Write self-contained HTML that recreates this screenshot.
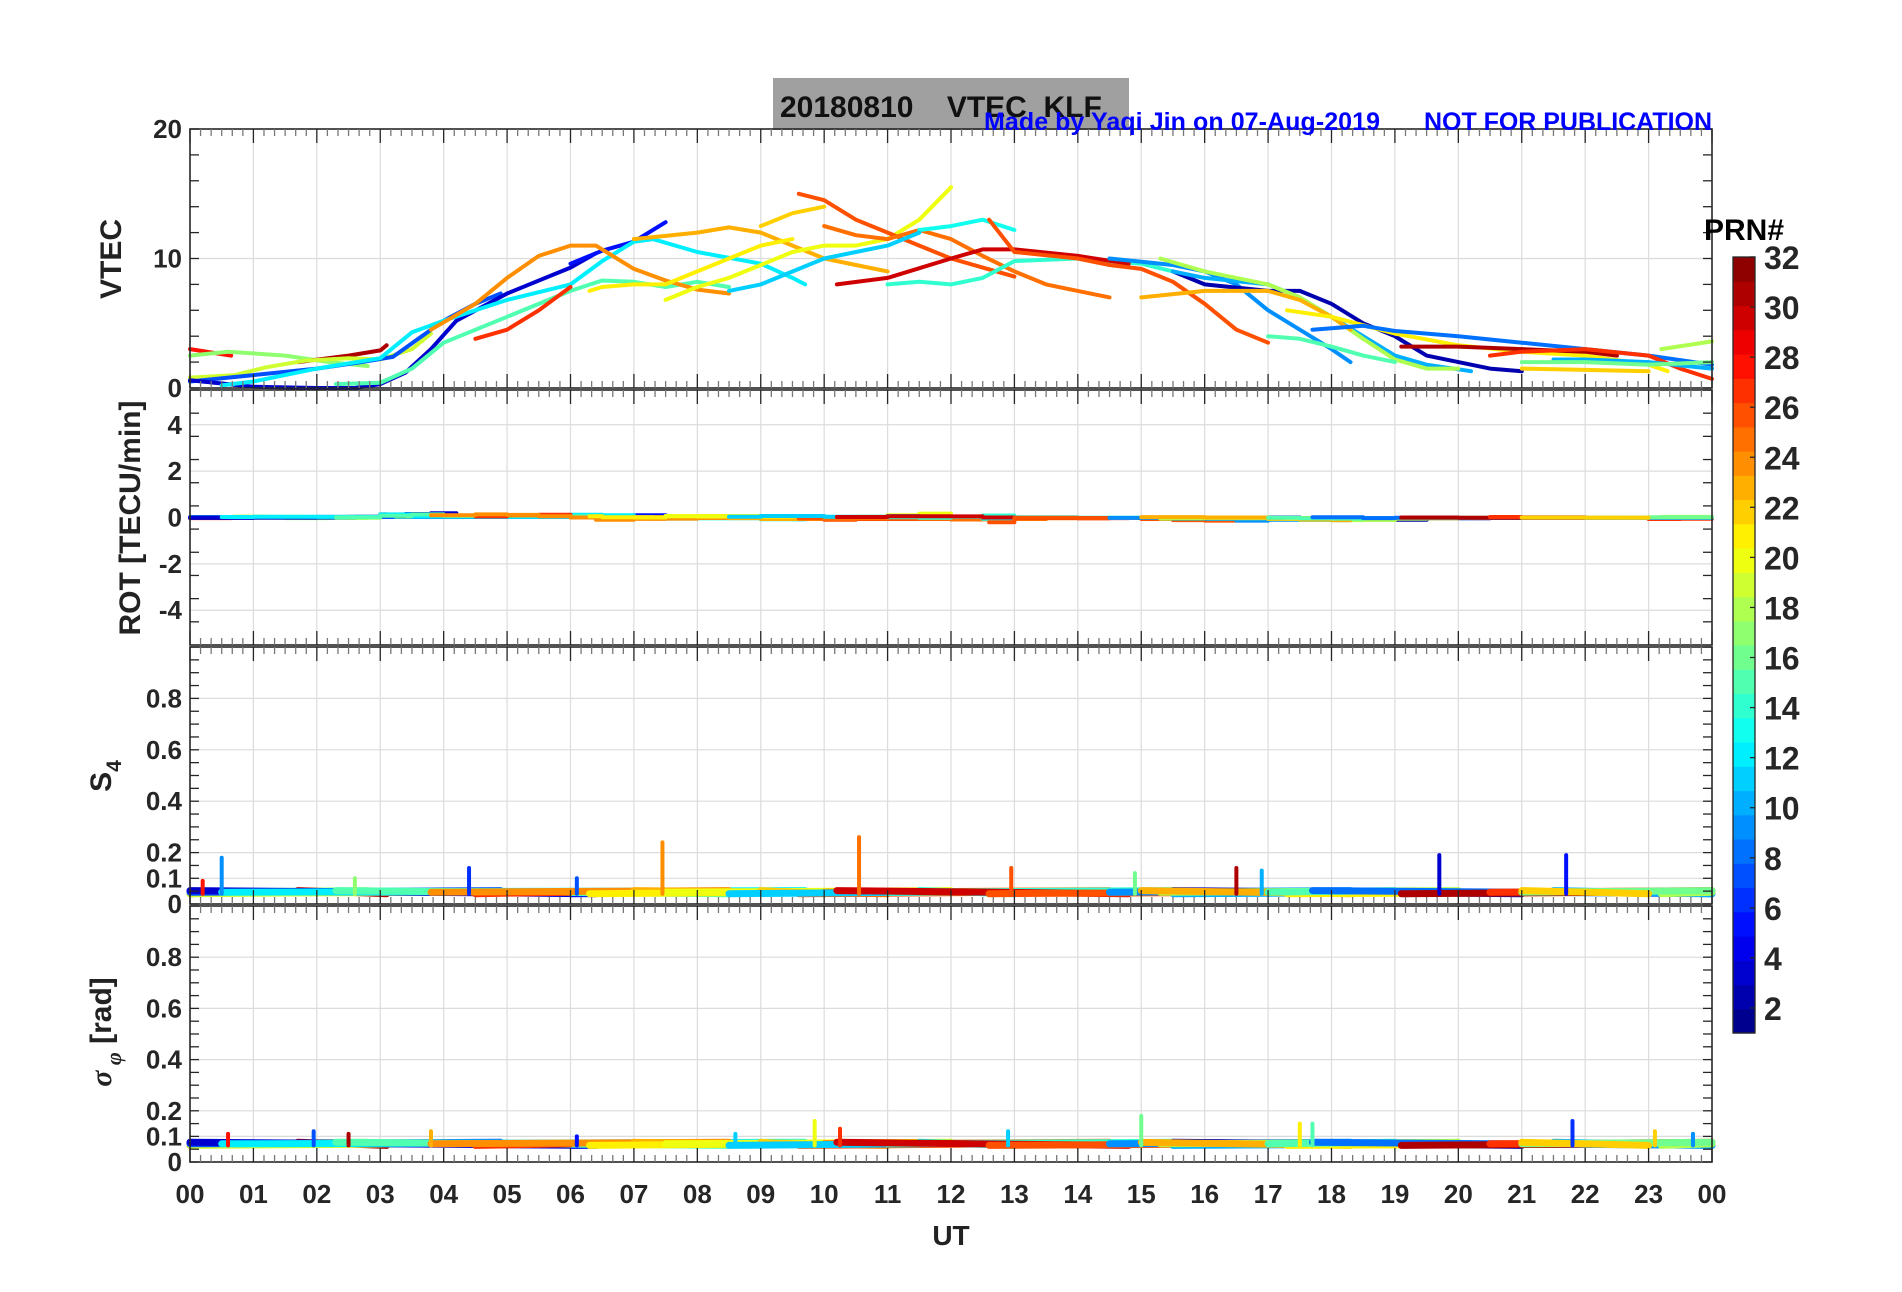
<!DOCTYPE html>
<html><head><meta charset="utf-8"><style>
html,body{margin:0;padding:0;background:#fff;}
svg{display:block;font-family:"Liberation Sans",sans-serif;font-weight:bold;}
</style></head><body>
<svg id="fig" width="1902" height="1292" viewBox="0 0 1902 1292" xmlns="http://www.w3.org/2000/svg">
<rect x="773" y="78" width="356" height="52" fill="#a0a0a0"/>
<text x="780" y="117" font-size="30" fill="#111" xml:space="preserve">20180810    VTEC  KLF</text>
<g id="plots"></g>
<text x="984" y="130" font-size="25" fill="#0000ff" textLength="396">Made by Yaqi Jin on 07-Aug-2019</text>
<text x="1424" y="130" font-size="25" fill="#0000ff" textLength="288">NOT FOR PUBLICATION</text>
<text x="121" y="259" font-size="30" fill="#222" text-anchor="middle" transform="rotate(-90 121 259)">VTEC</text>
<text x="140" y="518" font-size="30" fill="#222" text-anchor="middle" transform="rotate(-90 140 518)">ROT [TECU/min]</text>
<text x="111" y="776" font-size="30" fill="#222" text-anchor="middle" transform="rotate(-90 111 776)">S<tspan font-size="21" dy="10">4</tspan></text>
<text x="111" y="1032" font-size="30" fill="#222" text-anchor="middle" transform="rotate(-90 111 1032)"><tspan font-style="italic" font-family="Liberation Serif,serif">σ</tspan><tspan font-size="22" dy="10" font-style="italic" font-family="Liberation Serif,serif"> φ</tspan><tspan dy="-10"> [rad]</tspan></text>
<text x="951" y="1245" font-size="28" fill="#222" text-anchor="middle">UT</text>
<text x="1744" y="240" font-size="30" fill="#000" text-anchor="middle">PRN#</text>
<g id="cbar"></g>
</svg>
<script>
// ---- data ----
const prns = [28,17,31,19,7,3,5,12,15,27,24,23,21,20,22,26,25,13,11,14,30,26,9,2,10,18,23,21,15,8,31,27,10,18,16,22];
const vtecArcs = [
 [[0,3.0],[0.65,2.5]],
 [[0,2.5],[0.6,2.8],[1.5,2.5],[2.2,2.0],[2.8,1.7]],
 [[1.7,2.0],[2.5,2.5],[3.0,2.9],[3.1,3.3]],
 [[0,0.8],[0.7,1.0],[1.2,1.6],[1.8,2.1],[2.5,2.3],[3.0,2.2],[3.5,3.0],[3.8,4.2]],
 [[0,0.5],[1.0,1.0],[2.0,1.5],[2.7,2.0],[3.2,2.4],[3.6,3.8],[4.0,5.2],[4.5,6.5],[4.9,7.3]],
 [[0,0.6],[1,0.1],[2,0],[2.6,0],[3.0,0.3],[3.4,1.2],[3.8,3.0],[4.2,5.2],[5,7.3],[6,9.3],[6.4,10.4]],
 [[6.0,9.6],[6.5,10.6],[7,11.3],[7.5,12.8]],
 [[0.5,0.2],[1,0.5],[2,1.5],[3,2.3],[3.5,4.3],[4,5.2],[5,6.8],[6,8.0],[6.5,9.8],[7,11.3],[7.3,11.5],[8,10.5],[9,9.6],[9.5,8.5],[9.7,8.0]],
 [[2.3,0.3],[3,0.4],[3.5,1.5],[4,3.5],[5,5.5],[6,7.5],[6.5,8.3],[7,8.2],[7.5,7.8],[8,8.2],[8.5,7.8]],
 [[4.5,3.8],[5,4.5],[5.5,6.0],[6,7.8]],
 [[3.8,4.5],[4.5,6.5],[5,8.5],[5.5,10.2],[6,11],[6.4,11],[7,9.2],[7.5,8.3],[8,7.6],[8.5,7.3]],
 [[7,11.5],[8,12.0],[8.5,12.4],[9,12],[9.5,11],[10,10],[10.5,9.5],[11,9]],
 [[6.3,7.5],[6.5,7.8],[7,8.0],[7.5,8],[8,9.0],[8.5,10.0],[9,11],[9.5,11.5]],
 [[7.5,6.8],[8,7.8],[8.5,8.5],[9,9.5],[9.5,10.5],[10,11],[10.5,11],[11,11.5],[11.5,13],[12,15.5]],
 [[9,12.5],[9.5,13.5],[10,14]],
 [[9.6,15],[10,14.5],[10.5,13],[11,12],[11.5,11],[12,10],[12.5,9.3],[13,8.6]],
 [[10,12.5],[10.5,11.8],[11,11.5],[11.5,12.2],[12,11.5],[12.5,10.2],[13,9],[13.5,8],[14,7.5],[14.5,7]],
 [[11.5,12.2],[12,12.5],[12.5,13],[13,12.2]],
 [[8.5,7.5],[9,8],[10,10],[10.5,10.5],[11,11],[11.5,12]],
 [[11,8],[11.5,8.2],[12,8],[12.5,8.5],[13,9.8],[14,10],[15,9.6],[15.5,9]],
 [[10.2,8],[11,8.5],[12,10],[12.5,10.7],[13,10.7],[14,10.2],[14.8,9.6]],
 [[12.6,13],[13,10.5],[14,10],[14.5,9.5],[15,9.2],[15.5,8.2],[16,6.5],[16.5,4.5],[17,3.5]],
 [[14.5,10],[15.5,9.5],[16,9],[16.5,8],[17,6],[17.5,4.5],[18,3],[18.3,2]],
 [[15.5,9],[16,8],[17,7.5],[17.5,7.5],[18,6.5],[18.5,5],[19,4],[19.5,2.5],[20,2],[20.5,1.5],[21,1.3]],
 [[15.5,9],[16,8.5],[17,8],[17.5,7],[18,5.5],[18.5,4],[19,2.5],[19.5,1.8],[20.2,1.3]],
 [[15.3,10],[16,9],[17,8],[17.5,7],[18,5.5],[18.5,3.8],[19,2.2],[19.5,1.5],[20,1.5]],
 [[15,7],[16,7.5],[17,7.5],[17.5,6.8],[18,5.5],[18.3,4.5]],
 [[17.3,6],[18,5.5],[19,4.2],[20,3.3],[21,2.8],[22,2.5],[23,1.8],[23.3,1.3]],
 [[17,4],[17.5,3.8],[18,3.2],[18.5,2.5],[19,2.0]],
 [[17.7,4.5],[18.5,4.8],[19,4.4],[20,4],[21,3.5],[22,3.0],[23,2.5],[24,1.8]],
 [[19.1,3.2],[20,3.2],[21,3.0],[22,2.8],[22.5,2.5]],
 [[20.5,2.5],[21,2.8],[22,3.0],[23,2.5],[23.5,1.5],[24,0.7]],
 [[21.5,2.2],[22,2.2],[23,2.0],[24,1.5]],
 [[23.2,3.0],[24,3.6]],
 [[21,2],[22,2],[23,1.8],[24,2.0]],
 [[21,1.5],[22,1.4],[23,1.3]]
];
const s4Spikes = [[0.5,0.18,9],[4.4,0.14,6],[6.1,0.1,7],[7.45,0.24,24],[10.55,0.26,25],[12.95,0.14,26],[14.9,0.12,16],[16.5,0.14,31],[16.9,0.13,10],[19.7,0.19,3],[21.7,0.19,5],[0.2,0.09,28],[2.6,0.1,17]];
const sigSpikes = [[0.6,0.11,28],[1.95,0.12,7],[2.5,0.11,31],[3.8,0.12,23],[6.1,0.1,5],[8.6,0.11,11],[9.85,0.16,20],[10.25,0.13,27],[12.9,0.12,11],[15.0,0.18,16],[17.5,0.15,21],[17.7,0.15,15],[21.8,0.16,6],[23.1,0.12,22],[23.7,0.11,9]];
const s4Base = 0.04;
const sigBase = 0.065;
const xTickLabels = ["00","01","02","03","04","05","06","07","08","09","10","11","12","13","14","15","16","17","18","19","20","21","22","23","00"];
const cbarLabels = [2,4,6,8,10,12,14,16,18,20,22,24,26,28,30,32];

// ---- geometry ----
const L=190,R=1712;
const panels=[
 {name:'vtec',top:129,bot:388,min:0,max:20,labels:[0,10,20],minor:2,grid:[10]},
 {name:'rot',top:390,bot:645,min:-5.5,max:5.5,labels:[-4,-2,0,2,4],minor:1,grid:[-4,-2,0,2,4]},
 {name:'s4',top:647,bot:904,min:0,max:1,labels:[0,0.1,0.2,0.4,0.6,0.8],minor:0.05,grid:[0.1,0.2,0.4,0.6,0.8]},
 {name:'sigma',top:906,bot:1162,min:0,max:1,labels:[0,0.1,0.2,0.4,0.6,0.8],minor:0.05,grid:[0.1,0.2,0.4,0.6,0.8]}
];
const NS='http://www.w3.org/2000/svg';
const xs=h=>L+(R-L)*h/24;
const ys=(p,v)=>p.bot-(p.bot-p.top)*(v-p.min)/(p.max-p.min);
function jet(prn){const v=(prn-0.5)/32;const c=x=>Math.round(255*Math.max(0,Math.min(1,1.5-Math.abs(x))));return `rgb(${c(4*v-3)},${c(4*v-2)},${c(4*v-1)})`;}
function mk(tag,at,parent){const e=document.createElementNS(NS,tag);for(const k in at)e.setAttribute(k,at[k]);parent.appendChild(e);return e;}
const G=document.getElementById('plots');

panels.forEach((p,pi)=>{
 const g=mk('g',{},G);
 
 
 for(let h=1;h<24;h++){const l=mk('line',{x1:xs(h),x2:xs(h),y1:p.top,y2:p.bot,stroke:'#dcdcdc','stroke-width':1.2},g);
  
  }
 p.grid.forEach(v=>{const l=mk('line',{x1:L,x2:R,y1:ys(p,v),y2:ys(p,v),stroke:'#dcdcdc','stroke-width':1.2},g);
  
  });
 const d=mk('g',{},g);
 
 
 if(pi===1){const bl=mk('line',{x1:L,x2:R,y1:ys(p,0),y2:ys(p,0),stroke:jet(10),'stroke-width':3},d);}
 vtecArcs.forEach((arc,i)=>{
  const col=jet(prns[i]);
  let pts=[];
  if(pi===0){pts=arc.map(q=>[q[0],q[1]]);}
  else if(pi===1){for(let k=0;k<arc.length-1;k++){const r=(arc[k+1][1]-arc[k][1])/((arc[k+1][0]-arc[k][0])*60)*2;pts.push([arc[k][0],r],[arc[k+1][0],r]);}}
  else {const b=pi===2?s4Base:sigBase;pts=[[arc[0][0],b+(i%3)*0.006],[arc[arc.length-1][0],b+((i+1)%3)*0.006]];}
  const pl=mk('polyline',{points:pts.map(q=>xs(q[0]).toFixed(1)+','+ys(p,Math.max(p.min,Math.min(p.max,q[1]))).toFixed(1)).join(' '),fill:'none',stroke:col,'stroke-width':pi===0?4:(pi===1?4:7),'stroke-linejoin':'round','stroke-linecap':'round'},d);
  
  
 });
 const sp=pi===2?s4Spikes:pi===3?sigSpikes:[];
 sp.forEach(s=>{const b=pi===2?s4Base:sigBase;const l=mk('line',{x1:xs(s[0]),x2:xs(s[0]),y1:ys(p,b),y2:ys(p,s[1]),stroke:jet(s[2]),'stroke-width':4,'stroke-linecap':'round'},d);
  
  });
 const f=mk('rect',{x:L,y:p.top,width:R-L,height:p.bot-p.top,fill:'none',stroke:'#262626','stroke-width':1.6},g);
 
 
 for(let m=0;m<=144;m++){const x=xs(m/6);const len=m%6===0?14:7;
  mk('line',{x1:x,x2:x,y1:p.top,y2:p.top+len,stroke:m%6?'#777':'#262626','stroke-width':1.3},g);
  mk('line',{x1:x,x2:x,y1:p.bot,y2:p.bot-len,stroke:m%6?'#777':'#262626','stroke-width':1.3},g);}
 for(let v=p.min;v<=p.max+1e-9;v+=p.minor){const y=ys(p,v);if(v<p.min+1e-9&&pi===1)continue;
  mk('line',{x1:L,x2:L+9,y1:y,y2:y,stroke:'#262626','stroke-width':1.3},g);
  mk('line',{x1:R,x2:R-9,y1:y,y2:y,stroke:'#262626','stroke-width':1.3},g);}
 p.labels.forEach(v=>{const t=mk('text',{x:L-8,y:ys(p,v)+9,'font-size':26,fill:'#262626','text-anchor':'end'},g);
  t.textContent=String(v);
  
  });
});
xTickLabels.forEach((s,i)=>{const t=mk('text',{x:xs(i),y:1203,'font-size':26,fill:'#262626','text-anchor':'middle'},G);
 t.textContent=s;
 
 });
const C=document.getElementById('cbar');


const cT=257,cB=1033,cL=1733,cW=22;
for(let k=1;k<=32;k++){const y0=cB-(k)*(cB-cT)/32;
 const r=mk('rect',{x:cL,y:y0,width:cW,height:(cB-cT)/32+0.6,fill:jet(k)},C);
 
 }
mk('rect',{x:cL,y:cT,width:cW,height:cB-cT,fill:'none',stroke:'#262626','stroke-width':1.3},C);
cbarLabels.forEach(n=>{const y=cB-(n-1)/31*(cB-cT);
 mk('line',{x1:cL+cW-5,x2:cL+cW,y1:y,y2:y,stroke:'#262626','stroke-width':1.3},C);
 const t=mk('text',{x:1764,y:y+12,'font-size':32,fill:'#262626'},C);
 t.textContent=String(n);
 
 });
</script>
</body></html>
